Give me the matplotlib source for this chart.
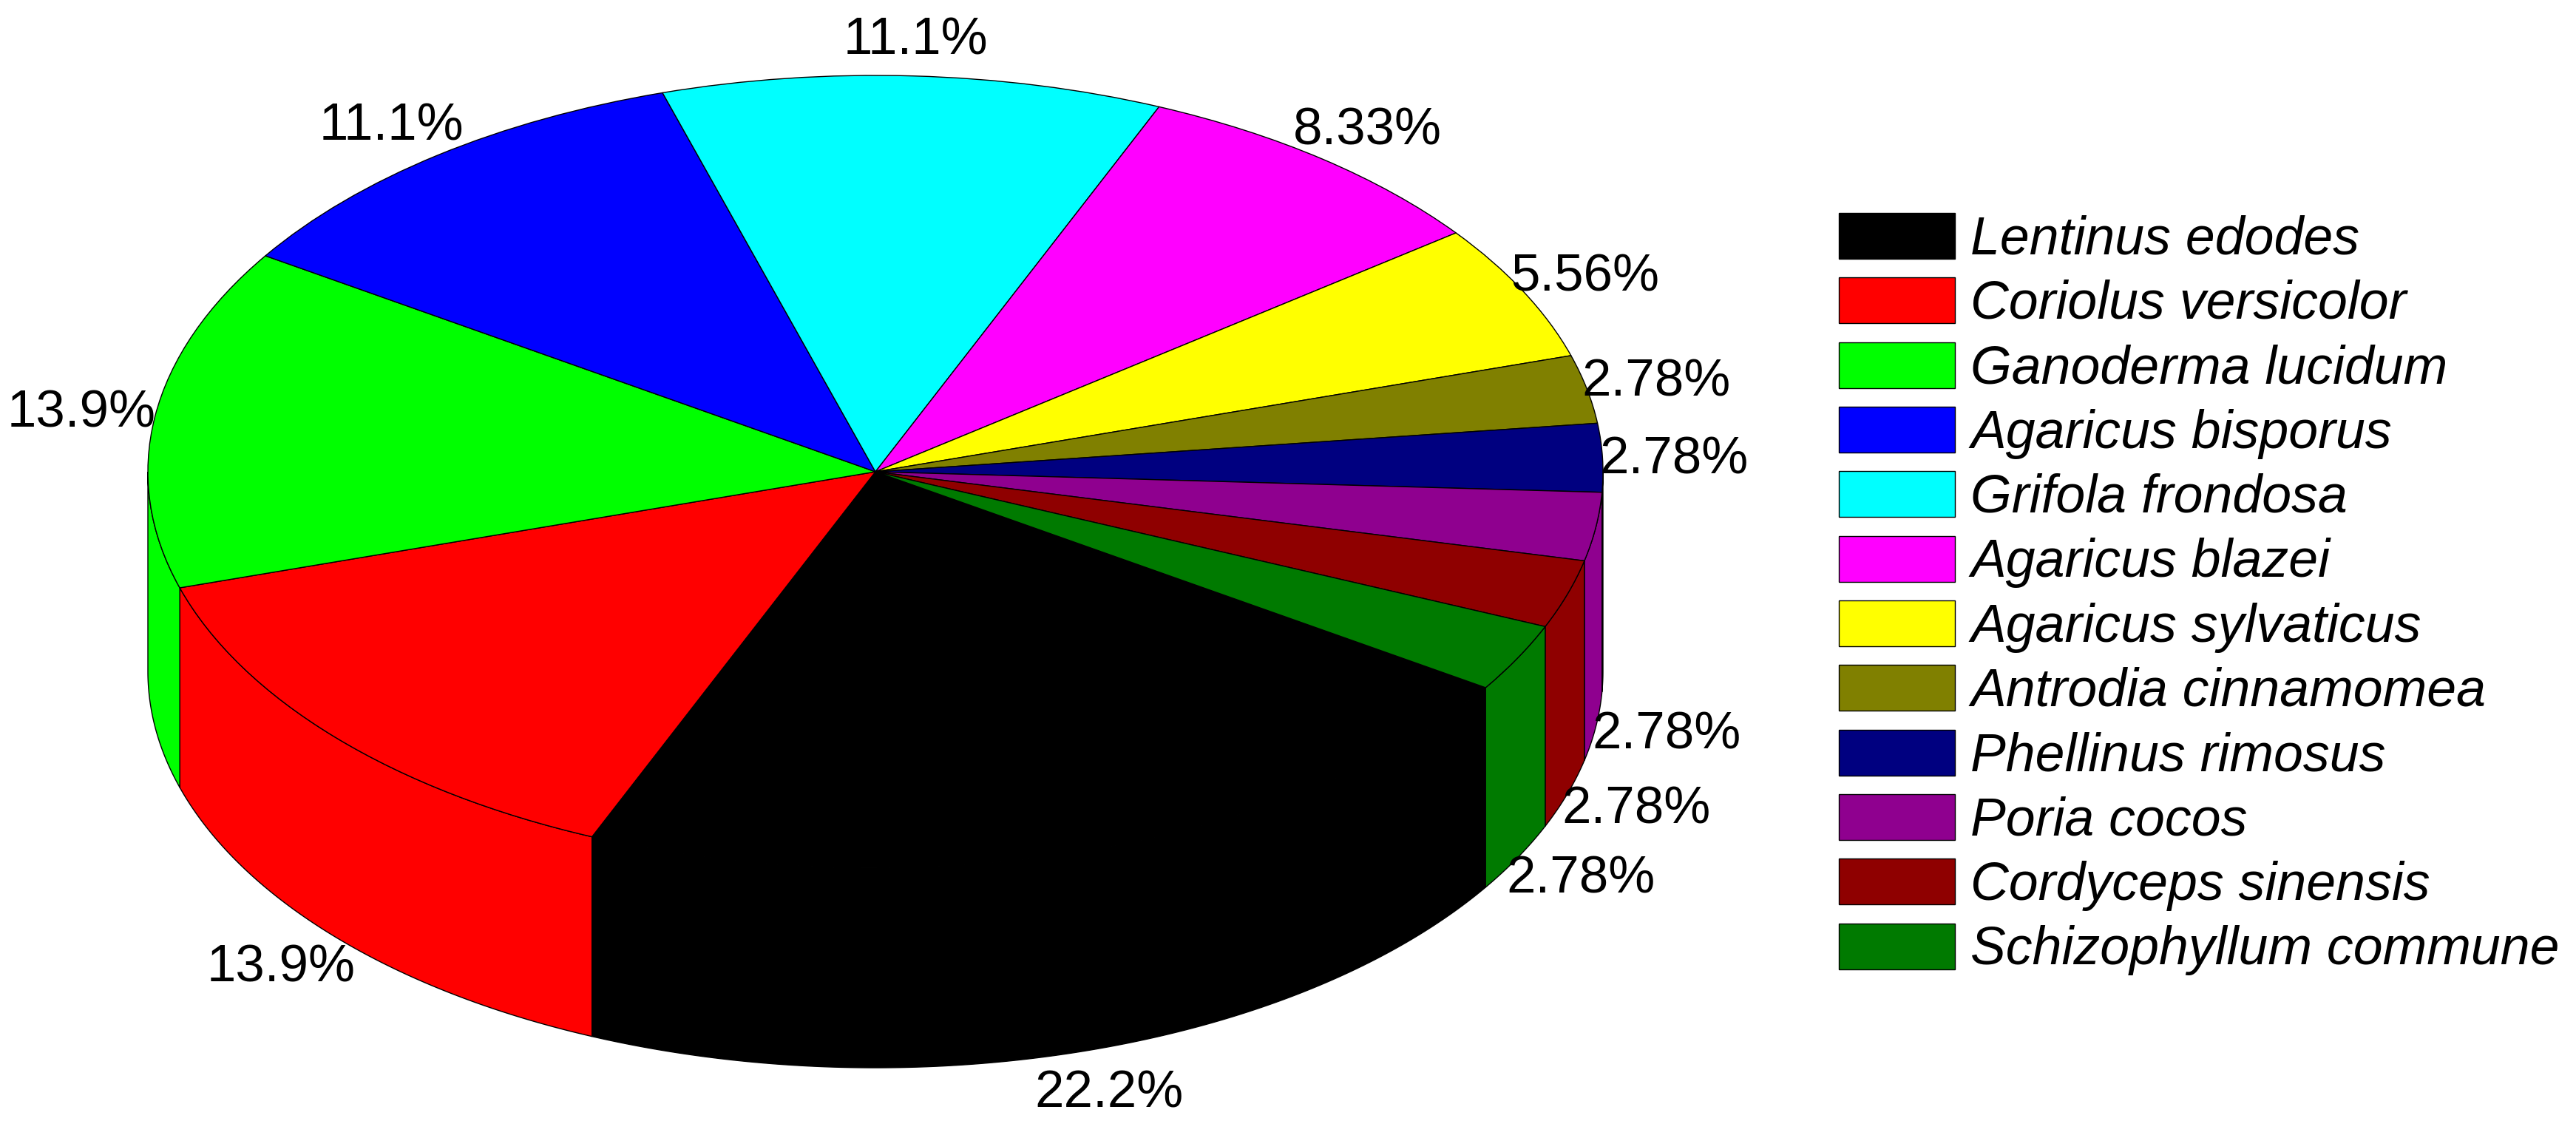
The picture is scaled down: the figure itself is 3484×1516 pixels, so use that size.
import numpy as np
import matplotlib
matplotlib.use("Agg")
import matplotlib.pyplot as plt

plt.rcParams['font.family'] = ['Liberation Sans', 'DejaVu Sans']

## DATA
species = ['Lentinus edodes', 'Coriolus versicolor', 'Ganoderma lucidum', 'Agaricus bisporus',
           'Grifola frondosa', 'Agaricus blazei', 'Agaricus sylvaticus', 'Antrodia cinnamomea',
           'Phellinus rimosus', 'Poria cocos', 'Cordyceps sinensis', 'Schizophyllum commune']
percent = [22.2, 13.9, 13.9, 11.1, 11.1, 8.33, 5.56, 2.78, 2.78, 2.78, 2.78, 2.78]
colors = ['#000000', '#ff0000', '#00ff00', '#0000ff', '#00ffff', '#ff00ff',
          '#ffff00', '#808000', '#000080', '#8f008f', '#8f0000', '#007a00']

## LAYOUT (pixels of the 3484x1516 picture)
W, H = 3484, 1516
cx, cy = 1184, 638      # centre of the top face
rx, ry = 984, 536       # radii of the top face
depth = 270             # height of the side wall
start_angle = 327
label_size = 25.5
legend_size = 25.8
edge_lw = 0.5

# label centres, same order as species
label_px = [(1500, 1480), (380, 1309), (110, 559), (529, 171), (1238, 56), (1849, 178),
            (2144, 376), (2240, 518), (2264, 622), (2254, 995), (2213, 1095), (2138, 1190)]

fig = plt.figure(figsize=(W / 200, H / 200), dpi=200)
ax = fig.add_axes([0, 0, 1, 1])

# top face
wedges, _ = ax.pie(percent, colors=colors, startangle=start_angle, counterclock=False, radius=1,
                   wedgeprops={'edgecolor': 'black', 'linewidth': edge_lw, 'zorder': 3})

# axes limits so that one data unit is rx / ry pixels
ax.set_aspect('auto')
ax.set_xlim(-cx / rx, (W - cx) / rx)
ax.set_ylim(-(H - cy) / ry, cy / ry)

# side wall, only the front half of the pie shows it
drop = depth / ry
for wedge in wedges:
    # wedge angles may run past 360, try the shifted windows as well
    for shift in (-360, 0, 360):
        a0 = max(wedge.theta1 + shift, 180)
        a1 = min(wedge.theta2 + shift, 360)
        if a1 <= a0:
            continue
        t = np.radians(np.linspace(a0, a1, 200))
        xs = np.cos(t)
        ys = np.sin(t)
        ax.fill(np.r_[xs, xs[::-1]], np.r_[ys, ys[::-1] - drop], facecolor=wedge.get_facecolor(),
                edgecolor='black', linewidth=edge_lw, zorder=2)

# percent labels
for value, (px, py) in zip(percent, label_px):
    fig.text(px / W, 1 - py / H, f"{value:g}%", fontsize=label_size, ha='center', va='center',
             color='black')

# legend
fig.legend(wedges, species, loc='upper left', bbox_to_anchor=(2487 / W, 1 - 288 / H), frameon=False,
           prop={'style': 'italic', 'size': legend_size}, borderpad=0,
           borderaxespad=0, handlelength=2.19, handleheight=0.954, handletextpad=0.3,
           labelspacing=0.233)

fig.savefig('out.png', dpi=200, facecolor='white')
